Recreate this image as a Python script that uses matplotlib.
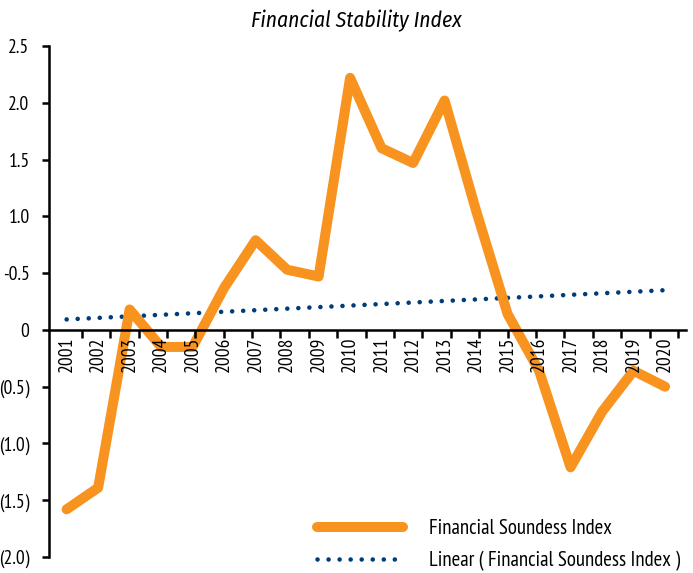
import matplotlib
matplotlib.use("Agg")
import matplotlib.pyplot as plt
import numpy as np

plt.rcParams['font.family'] = ['PT Sans Narrow', 'DejaVu Sans']
TITLE_FONT = ['Fira Sans Condensed', 'Roboto Condensed', 'DejaVu Sans']

years = [str(y) for y in range(2001, 2021)]
fsi = [-1.58, -1.39, 0.18, -0.15, -0.15, 0.37, 0.79, 0.53, 0.47, 2.22,
       1.60, 1.47, 2.02, 1.05, 0.14, -0.36, -1.21, -0.72, -0.36, -0.50]
ytick_vals = [2.5, 2.0, 1.5, 1.0, 0.5, 0, -0.5, -1.0, -1.5, -2.0]
ytick_labels = ["2.5", "2.0", "1.5", "1.0", "-0.5", "0", "(0.5)", "(1.0)", "(1.5)", "(2.0)"]

ORANGE = "#F7931E"
NAVY = "#003B7A"

fig = plt.figure(figsize=(6.93, 5.73), dpi=100)
ax = fig.add_axes([0.0707, 0.0279, 0.919, 0.8918])

x = np.arange(len(years))
ax.plot(x, fsi, color=ORANGE, lw=7.2, solid_joinstyle='round', solid_capstyle='round',
        label="Financial Soundess Index", zorder=2.2)
coef = np.polyfit(x, fsi, 1)
trend = np.polyval(coef, x)
ax.plot(x, trend, color=NAVY, lw=3.3, linestyle=(0, (0.01, 2.4)), dash_capstyle='round',
        label="Linear ( Financial Soundess Index )", zorder=2.1)

ax.set_xlim(-0.56, 19.66)
ax.set_ylim(-2.0, 2.5)
ax.spines['top'].set_visible(False)
ax.spines['right'].set_visible(False)
ax.spines['bottom'].set_position(('data', 0))
for s in ('left', 'bottom'):
    ax.spines[s].set_linewidth(1.8)
    ax.spines[s].set_color('black')
ax.xaxis.set_zorder(4)

ax.set_yticks(ytick_vals)
ax.set_yticklabels(ytick_labels, fontsize=14)
ax.tick_params(axis='y', direction='out', length=5, width=1.8, pad=9)

ax.set_xticks(np.linspace(0.48, 19.41, 22))
ax.set_xticklabels([])
ax.tick_params(axis='x', which='major', direction='out', length=6, width=1.8)
ax.set_xticks(x, minor=True)
ax.set_xticklabels(years, minor=True, rotation=90, fontsize=14)
ax.tick_params(axis='x', which='minor', length=0, pad=5)

fig.text(0.514, 0.963, "Financial Stability Index", ha='center', va='center',
         fontsize=15.5, style='italic', family=TITLE_FONT)

leg = fig.legend(loc='lower left', bbox_to_anchor=(0.452, -0.003), frameon=False,
                 fontsize=15, handlelength=4.1, handletextpad=1.25, labelspacing=0.6,
                 borderpad=0.2, borderaxespad=0)

fig.savefig("out.png", dpi=100)
